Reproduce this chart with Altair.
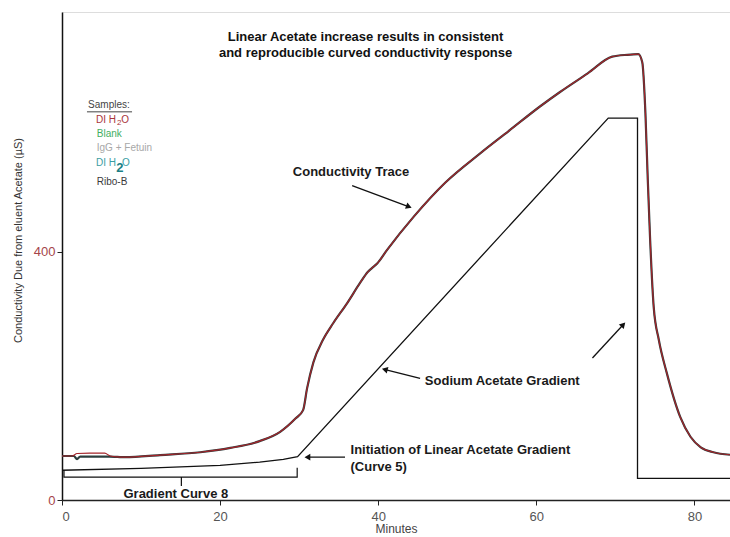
import math
import altair as alt
import pandas as pd

FONT = "Liberation Sans"
X_DOMAIN = [0, 84.5]
Y_DOMAIN = [0, 787]

# ---- conductivity trace (minutes, uS) ----
shared_min = [8, 12.4, 17.5, 21.3, 25, 27.6, 29.5, 30.5, 31.0, 31.8, 33.0, 34.3, 36.1, 37.7,
              38.7, 39.2, 39.9, 41.1, 44.5, 48.5, 52.9, 56.5, 60.5, 63.0, 66.5, 69.6, 71.5,
              72.9, 73.4, 73.8, 74.1, 74.4, 74.85, 75.5, 76.5, 78.2, 79.5, 80.8, 82.4, 84.5]
shared_val = [69, 72.5, 77, 84, 95, 110, 131, 145, 180, 222, 258, 285, 318, 350,
              368, 374, 382, 403, 457, 512, 559, 595, 635, 658, 688, 715, 718,
              719, 706, 624, 516, 419, 311, 258, 205, 134, 102, 85, 77, 73]
red_start_min = [0, 1.3, 1.9, 3.5, 5.4, 6.1, 7.0]
red_start_val = [71, 71, 75, 75.5, 75.5, 71, 69.5]
dark_start_min = [0, 1.5, 1.9, 2.3, 4.0, 6.0, 7.0]
dark_start_val = [71, 71, 66, 70, 70, 70, 69.5]

# ---- sodium acetate gradient (minutes, uS) ----
grad_min = [0, 10, 20, 25, 28, 29.8, 69.1, 72.8, 72.8, 84.5]
grad_val = [48, 51, 56, 61, 65.5, 70, 616, 616, 35, 35]

# ---- bracket "Gradient Curve 8" ----
br_min = [0.25, 0.25, 15.1, 15.1, 15.1, 29.75, 29.75]
br_val = [48, 37, 37, 22.6, 37, 37, 52]

# ---- annotation texts ----
title_lines = ["Linear Acetate increase results in consistent",
               "and reproducible curved conductivity response"]
title_x = [38.4, 38.4]
title_y = [747, 721]

ann_text = ["Conductivity Trace", "Sodium Acetate Gradient",
            "Initiation of Linear Acetate Gradient", "(Curve 5)"]
ann_x = [29.2, 45.9, 36.5, 36.5]
ann_y = [529, 192, 80.6, 53]

# arrows: tail -> tip (minutes, uS)
arr_x1 = [36.7, 45.3, 35.8, 67.1]
arr_y1 = [507, 196, 69, 229]
arr_x2 = [44.3, 40.4, 30.6, 71.3]
arr_y2 = [471, 212, 69, 287]

# legend
leg_labels = ["DI H", "Blank", "IgG + Fetuin", "DI H", "Ribo-B"]
leg_colors = ["#a8343a", "#3fae62", "#a8a8a8", "#3a9ea3", "#3a3a3a"]
leg_x = [4.3, 4.4, 4.4, 4.3, 4.4]
leg_y = [613, 590, 568, 544, 513]

PX_PER_X = 7.9
PX_PER_Y = 0.62

X_AXIS = alt.Axis(values=[0, 20, 40, 60, 80], title="Minutes", grid=False,
                  tickSize=5, tickColor="#222", domainColor="#222", domainWidth=1.5,
                  labelColor="#555", labelFontSize=13, labelFont=FONT, labelPadding=5,
                  titleFont=FONT, titleFontSize=12, titleFontWeight="normal",
                  titleColor="#444", titlePadding=0)
Y_AXIS = alt.Axis(values=[0, 400], title="Conductivity Due from eluent Acetate (µS)",
                  grid=False, tickSize=5, tickColor="#222", domainColor="#111",
                  domainWidth=1.5, labelColor="#a5454a", labelFontSize=13,
                  labelFont=FONT, labelPadding=2, titleFont=FONT, titleFontSize=11,
                  titleFontWeight="normal", titleColor="#333", titleX=-39, titleY=228)


def xe(field="x"):
    return alt.X(f"{field}:Q", scale=alt.Scale(domain=X_DOMAIN, nice=False, zero=False),
                 axis=X_AXIS, title="Minutes")


def ye(field="y"):
    return alt.Y(f"{field}:Q", scale=alt.Scale(domain=Y_DOMAIN, nice=False), axis=Y_AXIS,
                 title="Conductivity Due from eluent Acetate (µS)")


red_df = pd.DataFrame({"x": red_start_min + shared_min, "y": red_start_val + shared_val})
dark_df = pd.DataFrame({"x": dark_start_min + shared_min, "y": dark_start_val + shared_val})
grad_df = pd.DataFrame({"x": grad_min, "y": grad_val, "o": list(range(len(grad_min)))})
br_df = pd.DataFrame({"x": br_min, "y": br_val, "o": list(range(len(br_min)))})

dark_line = alt.Chart(dark_df).mark_line(color="#2c3e3e", strokeWidth=2.2, interpolate="monotone",
                                         clip=True).encode(x=xe(), y=ye())
red_line = alt.Chart(red_df).mark_line(color="#a3242a", strokeWidth=1.2, interpolate="monotone",
                                       clip=True).encode(x=xe(), y=ye())
grad_line = alt.Chart(grad_df).mark_line(color="#111", strokeWidth=1.3, clip=True).encode(
    x=xe(), y=ye(), order="o:Q")
bracket = alt.Chart(br_df).mark_line(color="#111", strokeWidth=1.2).encode(
    x=xe(), y=ye(), order="o:Q")

title_df = pd.DataFrame({"x": title_x, "y": title_y, "t": title_lines})
title = alt.Chart(title_df).mark_text(font=FONT, fontSize=13, fontWeight="bold", color="#111",
                                      align="center", baseline="middle").encode(
    x=xe(), y=ye(), text="t:N")

ann_df = pd.DataFrame({"x": ann_x, "y": ann_y, "t": ann_text})
ann = alt.Chart(ann_df).mark_text(font=FONT, fontSize=13, fontWeight="bold", color="#1a1a1a",
                                  align="left", baseline="middle").encode(
    x=xe(), y=ye(), text="t:N")

gc_df = pd.DataFrame({"x": [14.4], "y": [9.7], "t": ["Gradient Curve 8"]})
gc = alt.Chart(gc_df).mark_text(font=FONT, fontSize=13, fontWeight="bold", color="#1a1a1a",
                                align="center", baseline="middle").encode(
    x=xe(), y=ye(), text="t:N")

# arrows
rows = []
for x1, y1, x2, y2 in zip(arr_x1, arr_y1, arr_x2, arr_y2):
    dxp = (x2 - x1) * PX_PER_X
    dyp = -(y2 - y1) * PX_PER_Y
    L = math.hypot(dxp, dyp)
    ux, uy = dxp / L, dyp / L
    ang = math.degrees(math.atan2(ux, -uy)) % 360
    hx = x2 - ux * 3.5 / PX_PER_X
    hy = y2 + uy * 3.5 / PX_PER_Y
    rows.append({"x": x1, "y": y1, "x2": x2 - ux * 4 / PX_PER_X, "y2": y2 + uy * 4 / PX_PER_Y,
                 "hx": hx, "hy": hy, "a": ang})
arr_df = pd.DataFrame(rows)
arr_lines = alt.Chart(arr_df).mark_rule(color="#111", strokeWidth=1.3).encode(
    x=xe(), y=ye(), x2="x2:Q", y2="y2:Q")
arr_heads = alt.Chart(arr_df).mark_point(shape="triangle-up", filled=True, color="#111",
                                         size=45, opacity=1).encode(
    x=xe("hx"), y=ye("hy"), angle=alt.Angle("a:Q", scale=None))

# legend
samp_df = pd.DataFrame({"x": [3.3], "y": [637], "t": ["Samples:"]})
samp = alt.Chart(samp_df).mark_text(font=FONT, fontSize=10, color="#444", align="left",
                                    baseline="middle").encode(x=xe(), y=ye(), text="t:N")
under_df = pd.DataFrame({"x": [3.16], "x2": [8.86], "y": [626]})
under = alt.Chart(under_df).mark_rule(color="#444", strokeWidth=1).encode(
    x=xe(), x2="x2:Q", y=ye())

leg_df = pd.DataFrame({"x": leg_x, "y": leg_y, "t": leg_labels, "c": leg_colors})
leg = alt.Chart(leg_df).mark_text(font=FONT, fontSize=10, align="left", baseline="middle").encode(
    x=xe(), y=ye(), text="t:N", color=alt.Color("c:N", scale=None))

# subscript parts for the two "DI H2O" labels
sub_df = pd.DataFrame({"x": [6.95, 6.85], "y": [607.5, 535], "t": ["2", "2"],
                       "c": ["#a8343a", "#1a7f85"]})
sub_n = alt.Chart(sub_df.iloc[[0]]).mark_text(font=FONT, fontSize=8, align="left",
                                             baseline="middle").encode(
    x=xe(), y=ye(), text="t:N", color=alt.Color("c:N", scale=None))
sub_b = alt.Chart(sub_df.iloc[[1]]).mark_text(font=FONT, fontSize=13, fontWeight="bold",
                                             align="left", baseline="middle").encode(
    x=xe(), y=ye(), text="t:N", color=alt.Color("c:N", scale=None))
o_df = pd.DataFrame({"x": [7.5, 7.6], "y": [613, 544], "t": ["O", "O"],
                     "c": ["#a8343a", "#3a9ea3"]})
o_txt = alt.Chart(o_df).mark_text(font=FONT, fontSize=10, align="left", baseline="middle").encode(
    x=xe(), y=ye(), text="t:N", color=alt.Color("c:N", scale=None))

chart = alt.layer(
    dark_line, grad_line, red_line, bracket, title, ann, gc, arr_lines, arr_heads,
    samp, under, leg, sub_n, sub_b, o_txt
).properties(
    width=668, height=488,
    autosize=alt.AutoSizeParams(type="none"),
    padding={"left": 62, "top": 12, "right": 0, "bottom": 37},
).configure_view(strokeWidth=0).configure(background="white")

chart.save("out.html", embed_options={"renderer": "svg", "actions": False})
